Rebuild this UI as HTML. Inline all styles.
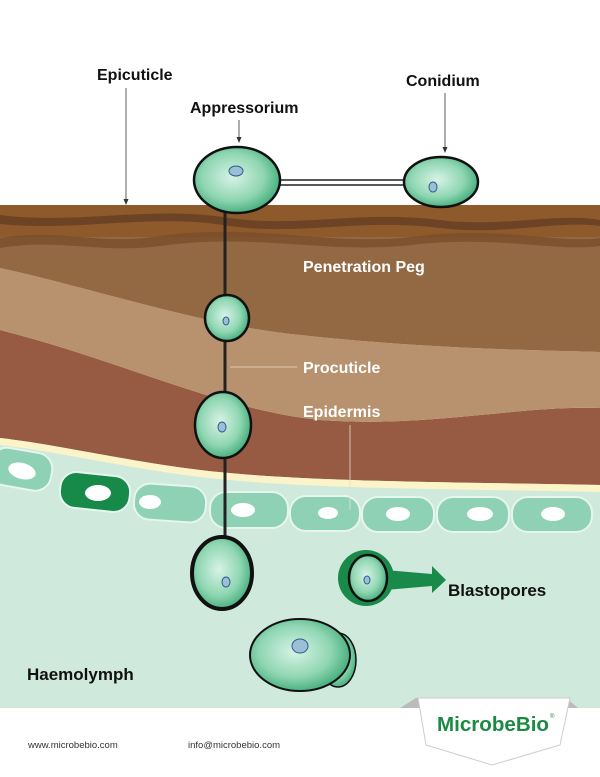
<!DOCTYPE html>
<html><head><meta charset="utf-8"><style>
html,body{margin:0;padding:0;background:#fff}
svg{display:block}
text{font-family:"Liberation Sans",sans-serif}
</style></head><body>
<svg width="600" height="777" viewBox="0 0 600 777" xmlns="http://www.w3.org/2000/svg">
<defs>
<radialGradient id="g" cx="45%" cy="45%" r="60%">
<stop offset="0" stop-color="#d8f3e6"/><stop offset="0.6" stop-color="#8fd6b2"/><stop offset="1" stop-color="#3aa874"/>
</radialGradient>
</defs>
<rect width="600" height="777" fill="#fff"/>
<rect x="0" y="440" width="600" height="268" fill="#cfe9dd"/>
<path d="M0 330 C120 360 220 410 320 420 C430 428 520 405 600 408 L600 485 C450 482 300 482 200 470 C120 460 60 445 0 438 Z" fill="#975b43"/>
<path d="M0 438 C60 445 120 460 200 470 C300 482 450 482 600 485 L600 492 C450 489 300 489 200 477 C120 467 60 452 0 445 Z" fill="#fbf4c8"/>
<path d="M0 268 C100 290 200 325 300 335 C420 348 520 350 600 352 L600 408 C520 405 430 428 320 420 C220 410 120 360 0 330 Z" fill="#b8916e"/>
<path d="M0 225 L600 225 L600 352 C520 350 420 348 300 335 C200 325 100 290 0 268 Z" fill="#936944"/>
<rect x="0" y="205" width="600" height="32" fill="#8e5a2c"/>
<path d="M0 215 C80 225 150 205 230 218 C300 228 360 210 440 220 C500 228 560 212 600 220 L600 226 C560 220 500 236 440 228 C360 218 300 236 230 226 C150 213 80 232 0 224 Z" fill="#6c4425"/>
<path d="M0 238 C60 228 100 246 160 236 C260 222 330 248 420 236 C500 226 560 244 600 238 L600 246 C560 252 500 236 420 244 C330 256 260 232 160 246 C100 254 60 238 0 248 Z" fill="#7a4e2b" opacity="0.8"/>
<g fill="#8fd1b5" stroke="#e6f5ee" stroke-width="2">
<rect x="-10" y="450" width="62" height="38" rx="16" transform="rotate(10 20 469)"/>
<rect x="60" y="474" width="70" height="36" rx="16" fill="#178a4a" transform="rotate(6 95 492)"/>
<rect x="134" y="485" width="72" height="36" rx="16" transform="rotate(4 170 503)"/>
<rect x="210" y="492" width="78" height="36" rx="16"/>
<rect x="290" y="496" width="70" height="35" rx="16"/>
<rect x="362" y="497" width="72" height="35" rx="16"/>
<rect x="437" y="497" width="72" height="35" rx="16"/>
<rect x="512" y="497" width="80" height="35" rx="16"/>
</g>
<g fill="#fff">
<ellipse cx="22" cy="471" rx="14" ry="8" transform="rotate(15 22 471)"/>
<ellipse cx="98" cy="493" rx="13" ry="8"/>
<ellipse cx="150" cy="502" rx="11" ry="7"/>
<ellipse cx="243" cy="510" rx="12" ry="7"/>
<ellipse cx="328" cy="513" rx="10" ry="6"/>
<ellipse cx="398" cy="514" rx="12" ry="7"/>
<ellipse cx="480" cy="514" rx="13" ry="7"/>
<ellipse cx="553" cy="514" rx="12" ry="7"/>
</g>
<line x1="225" y1="205" x2="225" y2="545" stroke="#222" stroke-width="3"/>
<rect x="278" y="180" width="130" height="5" fill="#fff" stroke="#222" stroke-width="1.5"/>
<g stroke="#111" stroke-width="2.5" fill="url(#g)">
<ellipse cx="237" cy="180" rx="43" ry="33"/>
<ellipse cx="441" cy="182" rx="37" ry="25"/>
<ellipse cx="227" cy="318" rx="22" ry="23"/>
<ellipse cx="223" cy="425" rx="28" ry="33"/>
<ellipse cx="222" cy="573" rx="30" ry="36" stroke-width="4"/>
<ellipse cx="338" cy="660" rx="18" ry="27" stroke-width="1.5"/>
<ellipse cx="300" cy="655" rx="50" ry="36" stroke-width="2"/>
</g>
<circle cx="366" cy="578" r="28" fill="#1a8a4a"/>
<path d="M385 570 L432 574 L432 566 L446 580 L432 593 L432 586 L385 590 Z" fill="#1a8a4a"/>
<ellipse cx="368" cy="578" rx="19" ry="23" fill="url(#g)" stroke="#111" stroke-width="2.5"/>
<g fill="#9bbfd8" stroke="#2c5f88" stroke-width="1">
<ellipse cx="236" cy="171" rx="7" ry="5"/>
<ellipse cx="433" cy="187" rx="4" ry="5"/>
<ellipse cx="226" cy="321" rx="3" ry="4"/>
<ellipse cx="222" cy="427" rx="4" ry="5"/>
<ellipse cx="226" cy="582" rx="4" ry="5"/>
<ellipse cx="367" cy="580" rx="3" ry="4"/>
<ellipse cx="300" cy="646" rx="8" ry="7"/>
</g>
<g stroke="#333" stroke-width="0.8">
<line x1="126" y1="88" x2="126" y2="203"/>
<line x1="239" y1="120" x2="239" y2="140"/>
<line x1="445" y1="93" x2="445" y2="150"/>
</g>
<g fill="#333"><path d="M123.5 199 L128.5 199 L126 205Z"/><path d="M236.5 137 L241.5 137 L239 143Z"/><path d="M442.5 147 L447.5 147 L445 153Z"/></g>
<g stroke="#e8dcd0" stroke-width="0.8">
<line x1="230" y1="367" x2="297" y2="367"/>
<line x1="350" y1="425" x2="350" y2="510"/>
</g>
<g font-weight="bold" font-size="16" fill="#111">
<text x="97" y="80">Epicuticle</text>
<text x="190" y="113">Appressorium</text>
<text x="406" y="86">Conidium</text>
<text x="448" y="596" font-size="17">Blastopores</text>
<text x="27" y="680" font-size="17">Haemolymph</text>
</g>
<g font-weight="bold" font-size="16" fill="#fff">
<text x="303" y="272">Penetration Peg</text>
<text x="303" y="373">Procuticle</text>
<text x="303" y="417">Epidermis</text>
</g>
<text x="28" y="748" font-size="9.5" fill="#333">www.microbebio.com</text>
<text x="188" y="748" font-size="9.5" fill="#333">info@microbebio.com</text>
<path d="M400 708 L416 698 L440 698 L440 708 Z" fill="#bbb"/>
<path d="M578 708 L566 698 L550 698 L550 708 Z" fill="#bbb"/>
<path d="M418 698 L570 698 L560 745 L492 765 L426 745 Z" fill="#fff" stroke="#ccc" stroke-width="1"/>
<text x="437" y="731" font-size="20" font-weight="bold" fill="#1c8a43" textLength="112" lengthAdjust="spacingAndGlyphs">MicrobeBio</text>
<text x="550" y="718" font-size="6" fill="#1c8a43">®</text>
</svg>
</body></html>
